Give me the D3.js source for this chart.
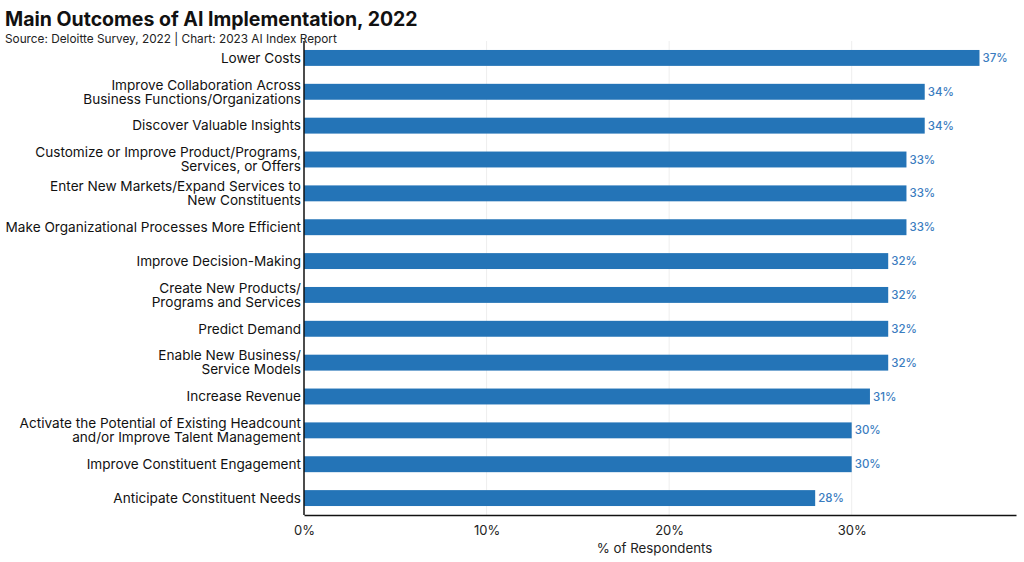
<!DOCTYPE html>
<html>
<head>
<meta charset="utf-8">
<script src="https://cdn.jsdelivr.net/npm/d3@7"></script>
<style>
  body { margin: 0; background: #fff; }
  svg { display: block; font-family: "Inter", "Lato", sans-serif; }
</style>
</head>
<body>
<svg id="chart"></svg>
<script>
// outcomes, top to bottom (each line of a label is a separate entry)
const outcomes = [
  ["Lower Costs"],
  ["Improve Collaboration Across", "Business Functions/Organizations"],
  ["Discover Valuable Insights"],
  ["Customize or Improve Product/Programs,", "Services, or Offers"],
  ["Enter New Markets/Expand Services to", "New Constituents"],
  ["Make Organizational Processes More Efficient"],
  ["Improve Decision-Making"],
  ["Create New Products/", "Programs and Services"],
  ["Predict Demand"],
  ["Enable New Business/", "Service Models"],
  ["Increase Revenue"],
  ["Activate the Potential of Existing Headcount", "and/or Improve Talent Management"],
  ["Improve Constituent Engagement"],
  ["Anticipate Constituent Needs"]
];
const shares = [37, 34, 34, 33, 33, 33, 32, 32, 32, 32, 31, 30, 30, 28];
const xTicks = [0, 10, 20, 30];

const width = 1024, height = 562;
const margin = { top: 41, right: 8, bottom: 47, left: 304 };

const svg = d3.select("#chart")
  .attr("width", width)
  .attr("height", height);

// title + source
svg.append("text")
  .attr("x", 5).attr("y", 26)
  .attr("font-size", 19.5).attr("font-weight", 700).attr("fill", "#111")
  .text("Main Outcomes of AI Implementation, 2022");
svg.append("text")
  .attr("x", 5).attr("y", 43)
  .attr("font-size", 11.8).attr("fill", "#222")
  .text("Source: Deloitte Survey, 2022 | Chart: 2023 AI Index Report");

const idx = shares.map((_, i) => i);

const x = d3.scaleLinear()
  .domain([0, 39])
  .range([margin.left, width - margin.right]);

const y = d3.scaleBand()
  .domain(idx)
  .range([margin.top, height - margin.bottom])
  .paddingInner(0.53)
  .paddingOuter(0.265);

// faint grid
svg.append("g")
  .selectAll("line")
  .data(xTicks.slice(1))
  .enter().append("line")
  .attr("x1", d => x(d)).attr("x2", d => x(d))
  .attr("y1", margin.top).attr("y2", height - margin.bottom)
  .attr("stroke", "#eee").attr("stroke-width", 1);

// bars
svg.append("g")
  .selectAll("rect")
  .data(idx)
  .enter().append("rect")
  .attr("x", x(0))
  .attr("y", i => y(i))
  .attr("width", i => x(shares[i]) - x(0))
  .attr("height", y.bandwidth())
  .attr("fill", "#2474b7");

// value labels
svg.append("g")
  .selectAll("text")
  .data(idx)
  .enter().append("text")
  .attr("x", i => x(shares[i]) + 3)
  .attr("y", i => y(i) + y.bandwidth() / 2)
  .attr("dy", "0.35em")
  .attr("font-size", 11.5)
  .attr("font-weight", 500)
  .attr("fill", "#3a7cc0")
  .text(i => shares[i] + "%");

// category labels
const labSize = 13.6, lineH = 14;
const lab = svg.append("g")
  .selectAll("text")
  .data(idx)
  .enter().append("text")
  .attr("text-anchor", "end")
  .attr("font-size", labSize)
  .attr("fill", "#111")
  .attr("y", i => y(i) + y.bandwidth() / 2);
lab.selectAll("tspan")
  .data(i => outcomes[i].map((t, k) => ({ t, k, n: outcomes[i].length })))
  .enter().append("tspan")
  .attr("x", margin.left - 3)
  .attr("dy", d => d.k === 0 ? (0.35 * labSize - (d.n - 1) * lineH / 2) : lineH)
  .text(d => d.t);

// axes
const xAxis = d3.axisBottom(x)
  .tickValues(xTicks)
  .tickFormat(d => d + "%")
  .tickSize(0)
  .tickPadding(11);
const gx = svg.append("g")
  .attr("transform", `translate(0,${height - margin.bottom})`)
  .call(xAxis);
gx.select(".domain").attr("stroke", "#111").attr("stroke-width", 1.5);
gx.selectAll("text").attr("font-size", 13).attr("fill", "#222").attr("font-family", "Inter, sans-serif");

svg.append("line")
  .attr("x1", x(0)).attr("x2", x(0))
  .attr("y1", margin.top).attr("y2", height - margin.bottom)
  .attr("stroke", "#111").attr("stroke-width", 1.5);

svg.append("text")
  .attr("x", x(19.2)).attr("y", height - 9)
  .attr("text-anchor", "middle")
  .attr("font-size", 13.3).attr("fill", "#222")
  .text("% of Respondents");
</script>
</body>
</html>
